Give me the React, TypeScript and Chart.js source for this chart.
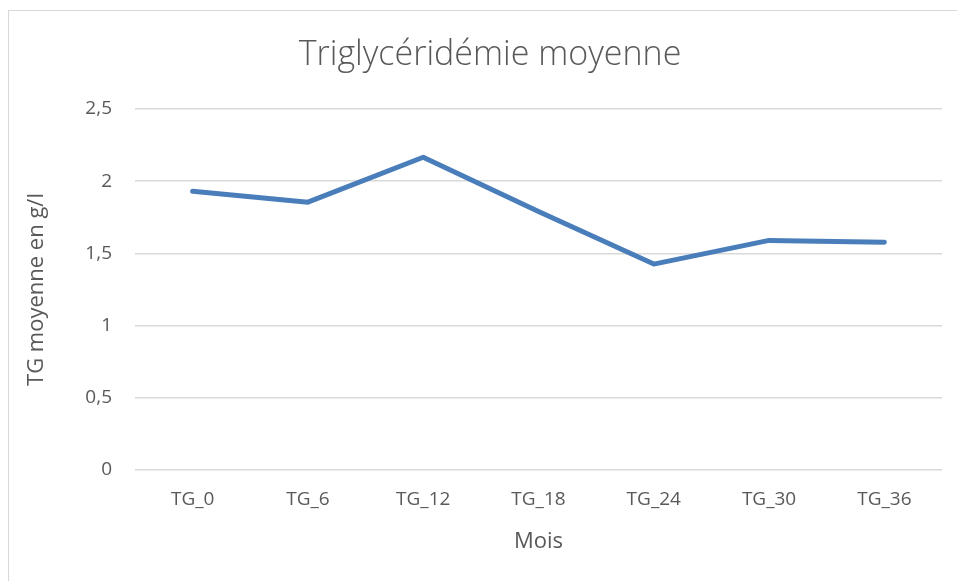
import React, { useEffect, useRef } from "react";
import { Chart, registerables } from "chart.js";

Chart.register(...registerables);

const categories = ["TG_0", "TG_6", "TG_12", "TG_18", "TG_24", "TG_30", "TG_36"];
const tgValues = [1.93, 1.855, 2.166, 1.79, 1.426, 1.59, 1.578];
const titleText = "Triglycéridémie moyenne";
const yTitle = "TG moyenne en g/l";
const xTitle = "Mois";

const TEXT = "#595959";
const FONT = "'Open Sans', 'Noto Sans', sans-serif";

const framePlugin = {
  id: "frameAndTitle",
  beforeDraw(chart: any) {
    const ctx = chart.ctx;
    ctx.save();
    ctx.fillStyle = "#ffffff";
    ctx.fillRect(0, 0, chart.width, chart.height);
    ctx.strokeStyle = "#d9d9d9";
    ctx.lineWidth = 1;
    ctx.strokeRect(8.5, 10.5, chart.width + 20, chart.height + 20);
    ctx.restore();
  },
  afterDraw(chart: any) {
    const ctx = chart.ctx;
    ctx.save();
    ctx.fillStyle = TEXT;
    ctx.font = `300 34px ${FONT}`;
    ctx.textAlign = "center";
    ctx.textBaseline = "middle";
    ctx.fillText(titleText, 490, 55);
    ctx.restore();
  },
};

export default function App() {
  const ref = useRef<HTMLCanvasElement | null>(null);
  useEffect(() => {
    document.body.style.margin = "0";
    const chart = new Chart(ref.current!, {
      type: "line",
      data: {
        labels: categories,
        datasets: [
          {
            label: "TG",
            data: tgValues,
            borderColor: "#4a7ebb",
            backgroundColor: "#4a7ebb",
            borderWidth: 5,
            pointRadius: 0,
            tension: 0,
            borderCapStyle: "round",
            borderJoinStyle: "round",
          },
        ],
      },
      options: {
        animation: false,
        responsive: false,
        layout: { padding: { left: 0, right: 15, top: 109, bottom: 0 } },
        plugins: {
          legend: { display: false },
          tooltip: { enabled: false },
          title: { display: false },
        },
        scales: {
          x: {
            offset: true,
            grid: { display: false, drawTicks: false },
            border: { display: false },
            ticks: { color: TEXT, font: { family: FONT, size: 19 }, padding: 18, maxRotation: 0 },
            title: {
              display: true,
              text: xTitle,
              color: TEXT,
              font: { family: FONT, size: 22, lineHeight: 1.2 },
              padding: { top: 0, bottom: 26 },
            },
            afterFit: (s: any) => {
              s.height = 111;
            },
          },
          y: {
            min: 0,
            max: 2.5,
            ticks: {
              stepSize: 0.5,
              color: TEXT,
              font: { family: FONT, size: 19 },
              padding: 23,
              callback: (v: any) => String(v).replace(".", ","),
            },
            grid: { color: "#d9d9d9", lineWidth: 1.5, drawTicks: false },
            border: { display: false },
            title: {
              display: true,
              text: yTitle,
              color: TEXT,
              font: { family: FONT, size: 22, lineHeight: 1.2 },
              padding: { top: 24, bottom: 0 },
            },
            afterFit: (s: any) => {
              s.width = 135;
            },
          },
        },
      },
      plugins: [framePlugin],
    });
    return () => chart.destroy();
  }, []);
  return (
    <div style={{ position: "absolute", left: 0, top: 0, width: 957, height: 581 }}>
      <canvas ref={ref} width={957} height={581} style={{ width: 957, height: 581 }} />
    </div>
  );
}
